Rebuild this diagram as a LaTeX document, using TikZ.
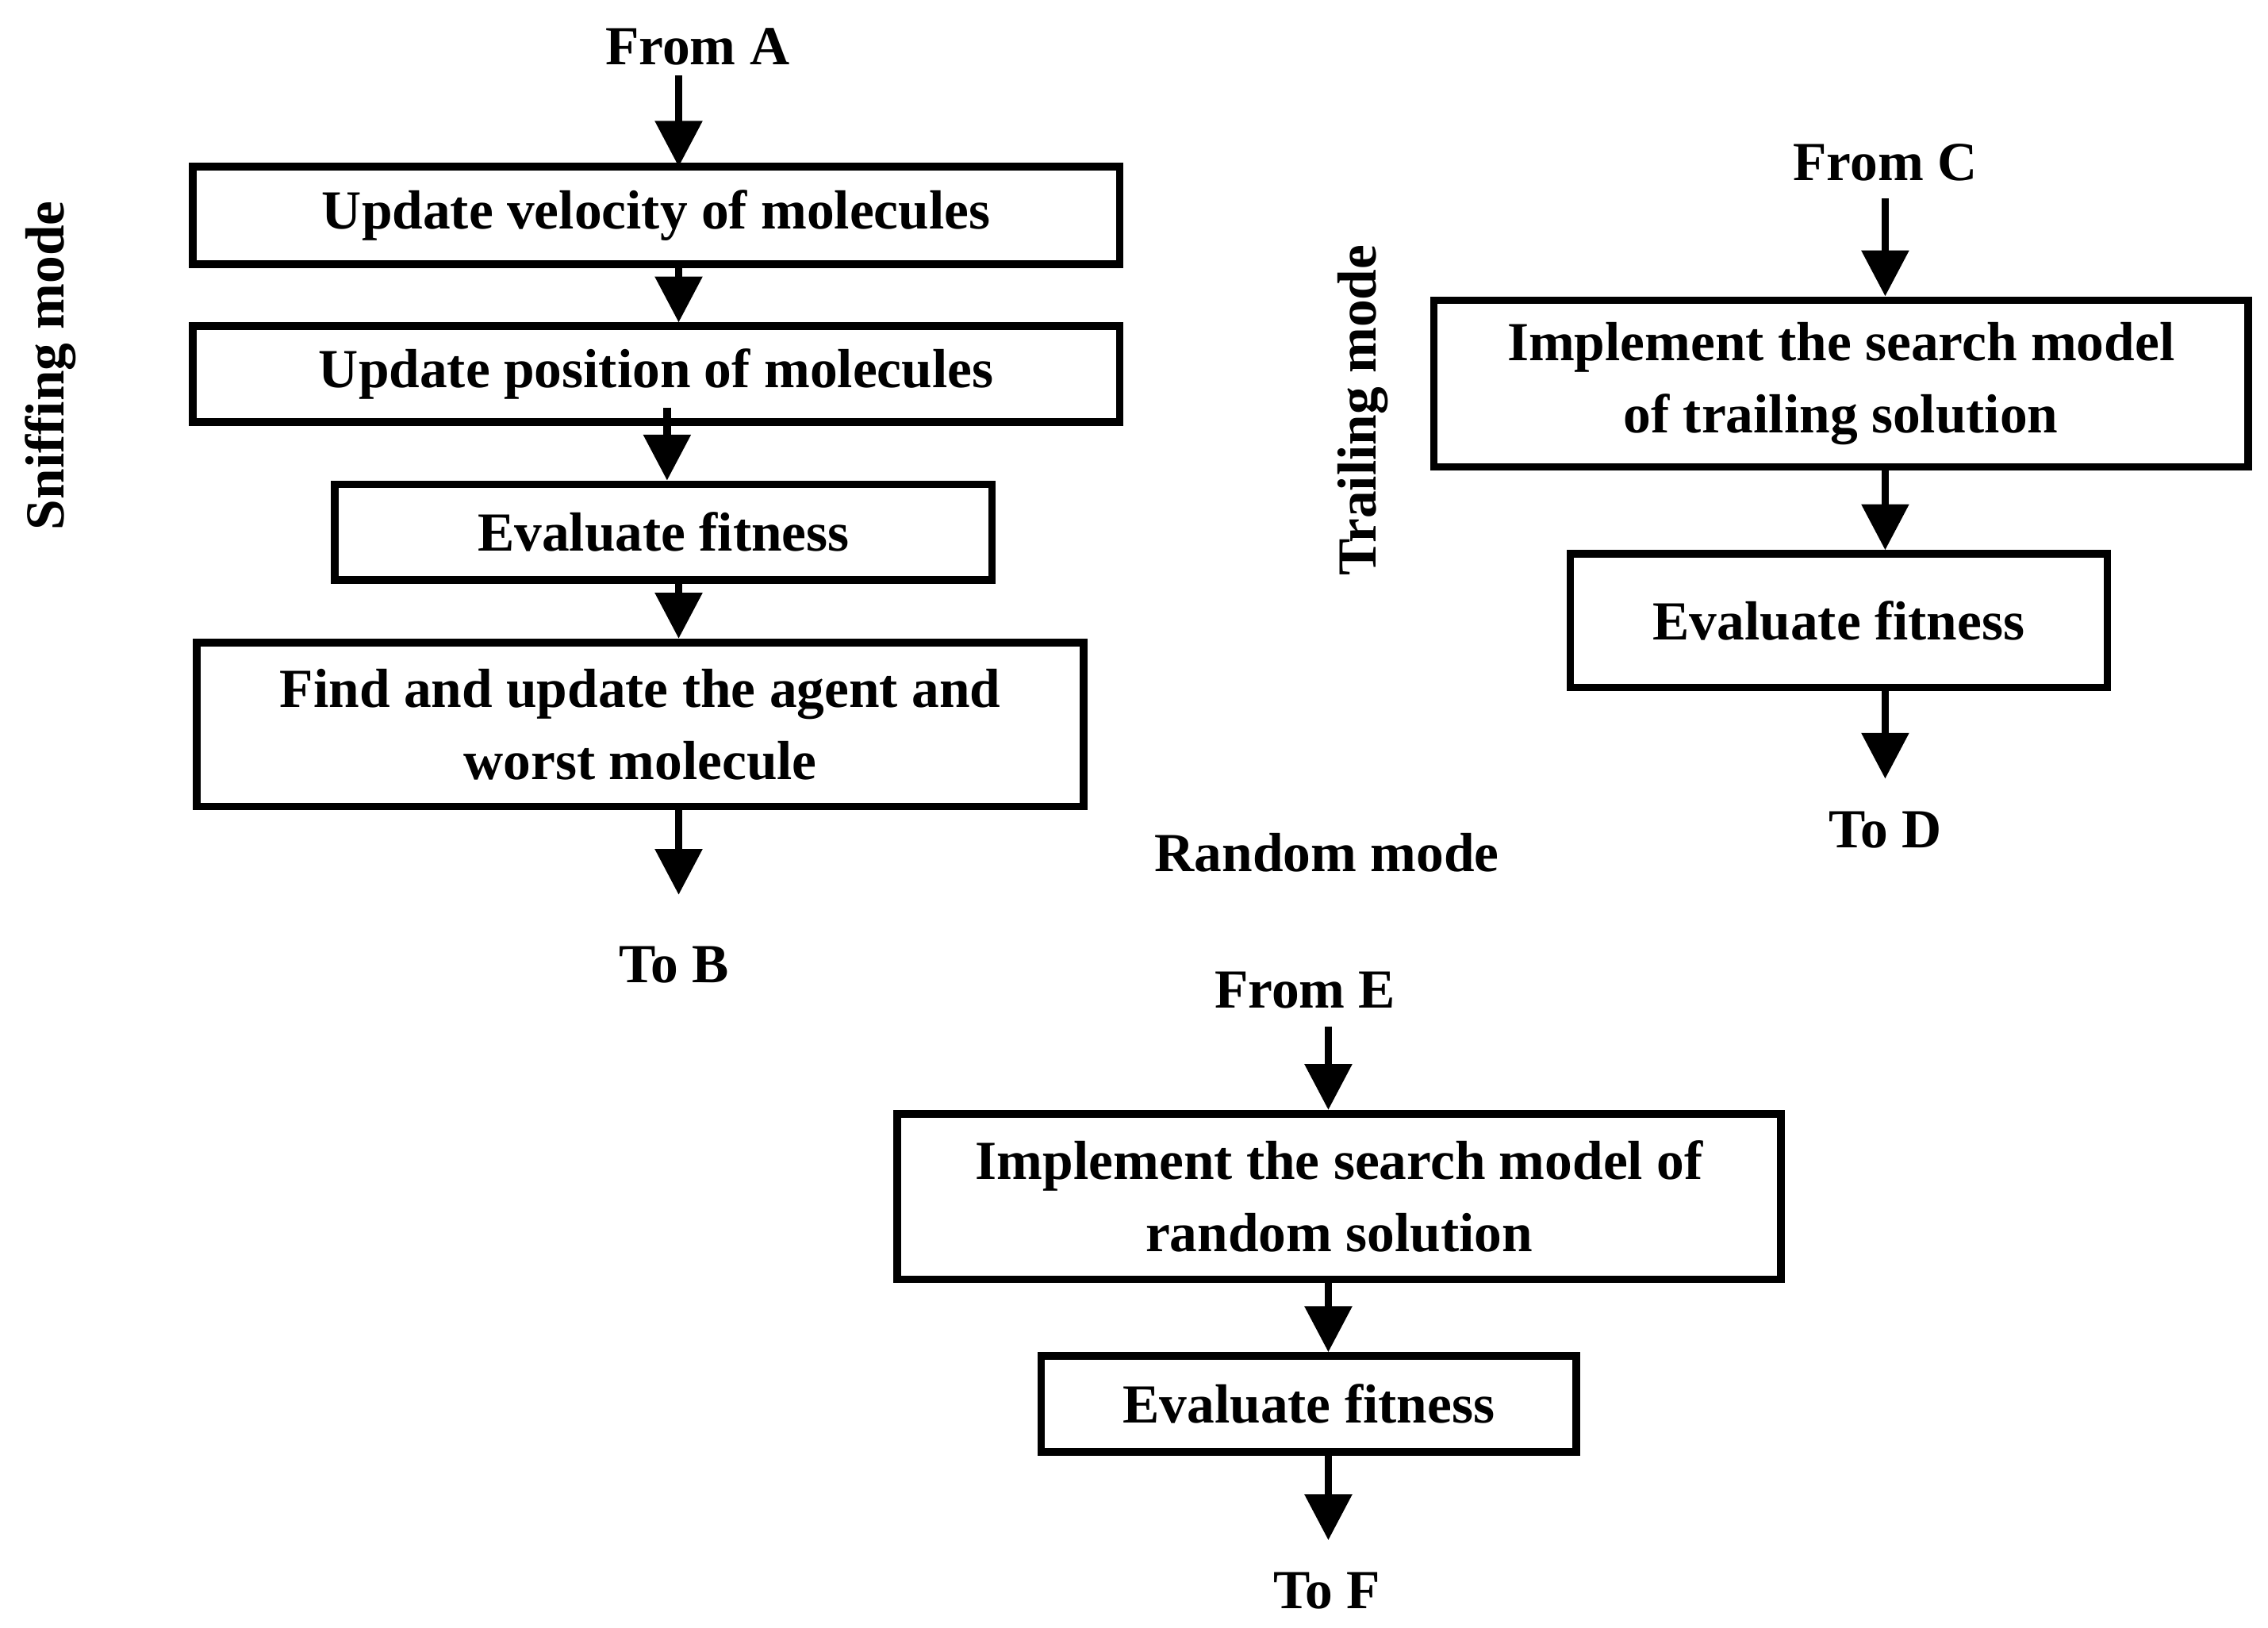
\documentclass[tikz,border=0pt]{standalone}
\usepackage{fontspec}
\setmainfont{Liberation Serif}
\usetikzlibrary{arrows.meta}
\tikzset{
  box/.style={draw=black, line width=1.5pt, inner sep=0pt, align=center, font=\bfseries},
  lbl/.style={font=\bfseries, inner sep=0pt},
  flow/.style={line width=1.5pt, -{Triangle[width=9pt,length=9pt]}},
}
\begin{document}
\fontsize{10.8}{14.2}\selectfont
\begin{tikzpicture}[x=0.01cm, y=-0.01cm]
			\useasboundingbox (0,0) rectangle (1564,1122);
			% sniffing mode
			\node[lbl, rotate=90] (sniff) at (35,252) {Sniffing mode};
			\node[lbl] (fromA) at (481,32) {From A};
			\node[box, minimum width=6.39cm, minimum height=0.67cm] (vel) at (452.5,148.5) {Update velocity of molecules};
			\node[box, minimum width=6.39cm, minimum height=0.66cm] (pos) at (452.5,258) {Update position of molecules};
			\node[box, minimum width=4.53cm, minimum height=0.66cm] (evalA) at (457.5,367) {Evaluate fitness};
			\node[box, minimum width=6.11cm, minimum height=1.13cm] (find) at (441.5,499.5) {Find and update the agent and\\worst molecule};
			\node[lbl] (toB) at (465,665) {To B};
			
			\draw[flow] (468,52) -- (468,115);
			\draw[flow] (vel.south -| 468,0) -- (pos.north -| 468,0);
			\draw[flow] (460,281) -- (evalA.north -| 460,0);
			\draw[flow] (evalA.south -| 468,0) -- (find.north -| 468,0);
			\draw[flow] (find.south -| 468,0) -- (468,617);
			
			% trailing mode
			\node[lbl, rotate=90] (trail) at (940,283) {Trailing mode};
			\node[lbl] (fromC) at (1300,112) {From C};
			\node[box, minimum width=5.61cm, minimum height=1.15cm] (trsearch) at (1269.5,264.5) {Implement the search model\\of trailing solution};
			\node[box, minimum width=3.70cm, minimum height=0.92cm] (evalC) at (1268,428) {Evaluate fitness};
			\node[lbl] (toD) at (1300,572) {To D};
			
			\draw[flow] (1300,137) -- (trsearch.north -| 1300,0);
			\draw[flow] (trsearch.south -| 1300,0) -- (evalC.north -| 1300,0);
			\draw[flow] (evalC.south -| 1300,0) -- (1300,537);
			
			% random mode
			\node[lbl] (rand) at (915,588) {Random mode};
			\node[lbl] (fromE) at (900,683) {From E};
			\node[box, minimum width=6.09cm, minimum height=1.14cm] (rdsearch) at (923.5,825) {Implement the search model of\\random solution};
			\node[box, minimum width=3.69cm, minimum height=0.66cm] (evalE) at (902.5,968) {Evaluate fitness};
			\node[lbl] (toF) at (915,1097) {To F};
			
			\draw[flow] (916,708) -- (rdsearch.north -| 916,0);
			\draw[flow] (rdsearch.south -| 916,0) -- (evalE.north -| 916,0);
			\draw[flow] (evalE.south -| 916,0) -- (916,1062);
\end{tikzpicture}
\end{document}
